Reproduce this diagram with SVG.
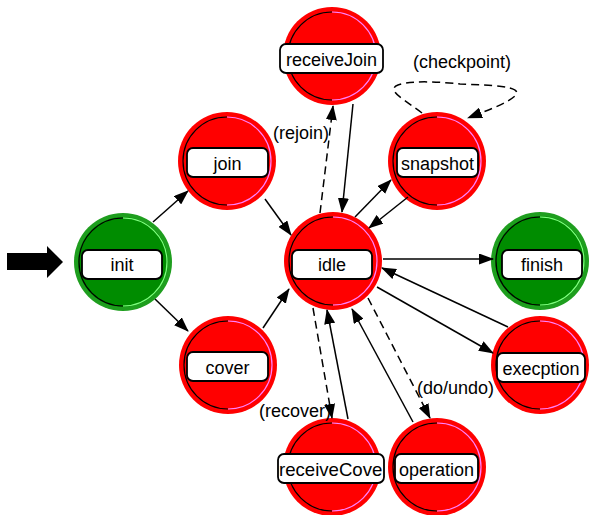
<svg xmlns="http://www.w3.org/2000/svg" width="589" height="515" viewBox="0 0 589 515">
<style>
.red{fill:#ff0000}
.gout{fill:#1e9e1e}
.gin{fill:#008c00}
.dark{fill:none;stroke:#000;stroke-width:1.2}
.pink{fill:none;stroke:#ff80ff;stroke-width:1.2}
.lgreen{fill:none;stroke:#80ff80;stroke-width:1.2}
.box{fill:#fff;stroke:#000;stroke-width:1.8}
.lbl{font-family:"Liberation Sans",Arial,Helvetica,sans-serif;font-size:18px;fill:#000;text-anchor:middle}
.elbl{font-family:"Liberation Sans",Arial,Helvetica,sans-serif;font-size:18px;fill:#000}
.e{fill:none;stroke:#000;stroke-width:1.5;marker-end:url(#ah)}
.d{stroke-dasharray:8,5}
</style>
<defs>
<marker id="ah" markerWidth="15" markerHeight="11" refX="14" refY="5.5" orient="auto" markerUnits="userSpaceOnUse">
<path d="M0,0 L15,5.5 L0,11 z" fill="#000"/>
</marker>
<clipPath id="rcClip"><rect x="279" y="455" width="104" height="28"/></clipPath>
</defs>
<rect width="589" height="515" fill="#fff"/>

<g id="start-arrow">
<polygon points="7,253 47,253 47,246 63,262 47,278 47,270 7,270" fill="#000"/>
</g>

<g id="init">
<circle cx="123" cy="262" r="49" class="gout"/>
<circle cx="123" cy="262" r="45" class="gin"/>
<path d="M123,306 A44,44 0 0 1 123,218" class="dark"/>
<path d="M123,218 A44,44 0 0 1 123,306" class="lgreen"/>
<rect x="82" y="250" width="80" height="29" rx="6" class="box"/>
<text x="122" y="271" class="lbl">init</text>
</g>

<g id="join">
<circle cx="227" cy="161" r="49" class="red"/>
<path d="M227,205 A44,44 0 0 1 227,117" class="dark"/>
<path d="M227,117 A44,44 0 0 1 227,205" class="pink"/>
<rect x="187" y="148" width="81" height="29" rx="6" class="box"/>
<text x="227.5" y="170" class="lbl">join</text>
</g>

<g id="cover">
<circle cx="228" cy="365" r="49" class="red"/>
<path d="M228,409 A44,44 0 0 1 228,321" class="dark"/>
<path d="M228,321 A44,44 0 0 1 228,409" class="pink"/>
<rect x="187" y="352" width="81" height="29" rx="6" class="box"/>
<text x="227.5" y="374" class="lbl">cover</text>
</g>

<g id="receiveJoin">
<circle cx="332" cy="56" r="49" class="red"/>
<path d="M332,100 A44,44 0 0 1 332,12" class="dark"/>
<path d="M332,12 A44,44 0 0 1 332,100" class="pink"/>
<rect x="280" y="44" width="103" height="29" rx="6" class="box"/>
<text x="331.5" y="66" class="lbl">receiveJoin</text>
</g>

<g id="snapshot">
<circle cx="437" cy="161" r="49" class="red"/>
<path d="M437,205 A44,44 0 0 1 437,117" class="dark"/>
<path d="M437,117 A44,44 0 0 1 437,205" class="pink"/>
<rect x="397" y="148" width="81" height="29" rx="6" class="box"/>
<text x="437.5" y="170" class="lbl">snapshot</text>
</g>

<g id="idle">
<circle cx="333" cy="261" r="49" class="red"/>
<path d="M333,305 A44,44 0 0 1 333,217" class="dark"/>
<path d="M333,217 A44,44 0 0 1 333,305" class="pink"/>
<rect x="292" y="250" width="80" height="29" rx="6" class="box"/>
<text x="332" y="271" class="lbl">idle</text>
</g>

<g id="finish">
<circle cx="540" cy="261" r="49" class="gout"/>
<circle cx="540" cy="261" r="45" class="gin"/>
<path d="M540,305 A44,44 0 0 1 540,217" class="dark"/>
<path d="M540,217 A44,44 0 0 1 540,305" class="lgreen"/>
<rect x="502" y="250" width="80" height="29" rx="6" class="box"/>
<text x="542" y="271" class="lbl">finish</text>
</g>

<g id="execption">
<circle cx="540" cy="365" r="49" class="red"/>
<path d="M540,409 A44,44 0 0 1 540,321" class="dark"/>
<path d="M540,321 A44,44 0 0 1 540,409" class="pink"/>
<rect x="497" y="353" width="88" height="29" rx="6" class="box"/>
<text x="541" y="375" class="lbl">execption</text>
</g>

<g id="receiveCover">
<circle cx="332" cy="467" r="49" class="red"/>
<path d="M332,511 A44,44 0 0 1 332,423" class="dark"/>
<path d="M332,423 A44,44 0 0 1 332,511" class="pink"/>
<rect x="278" y="454" width="106" height="29" rx="6" class="box"/>
<text x="279" y="476" class="elbl" style="font-size:18.6px" clip-path="url(#rcClip)">receiveCover</text>
</g>

<g id="operation">
<circle cx="437" cy="467" r="49" class="red"/>
<path d="M437,511 A44,44 0 0 1 437,423" class="dark"/>
<path d="M437,423 A44,44 0 0 1 437,511" class="pink"/>
<rect x="395" y="454" width="83" height="29" rx="6" class="box"/>
<text x="436.5" y="476" class="lbl">operation</text>
</g>

<g id="connectors">
<line x1="153" y1="222" x2="188" y2="191" class="e"/>
<line x1="155" y1="299" x2="188" y2="331" class="e"/>
<line x1="265" y1="199" x2="291" y2="235" class="e"/>
<line x1="263" y1="328" x2="289" y2="289" class="e"/>
<line x1="320" y1="213" x2="333" y2="106" class="e d"/>
<line x1="353" y1="104" x2="342" y2="212" class="e"/>
<line x1="355" y1="217" x2="391" y2="180" class="e"/>
<line x1="408" y1="197" x2="369" y2="228" class="e"/>
<line x1="383" y1="259" x2="493" y2="259" class="e"/>
<line x1="508" y1="327" x2="382" y2="268" class="e"/>
<line x1="377" y1="287" x2="493" y2="353" class="e"/>
<line x1="313" y1="308" x2="332" y2="418" class="e d"/>
<line x1="348" y1="419" x2="327" y2="310" class="e"/>
<line x1="413" y1="422" x2="352" y2="309" class="e"/>
<line x1="368" y1="298" x2="430" y2="418" class="e d"/>
<path d="M422,113 C405,100 385,90 398,85 C412,80 440,82 460,84 C490,85 525,86 515,96 C506,104 488,110 468,118" class="e d"/>
<text x="273" y="139" class="elbl">(rejoin)</text>
<text x="413" y="68" class="elbl">(checkpoint)</text>
<text x="417" y="394" class="elbl">(do/undo)</text>
<text x="259" y="417" class="elbl">(recover)</text>
</g>
</svg>
